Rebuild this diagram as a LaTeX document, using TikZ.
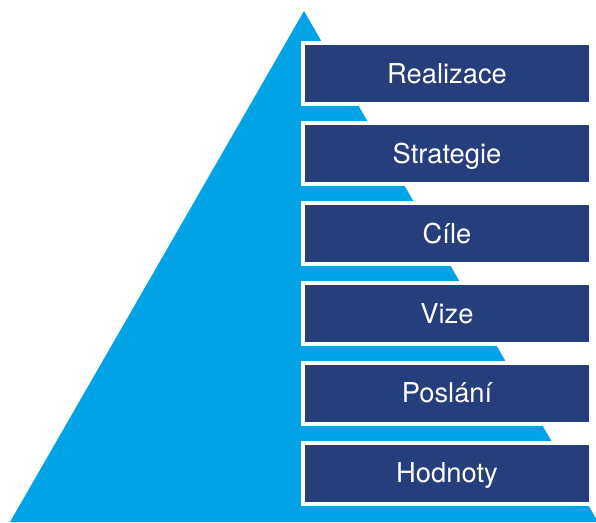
\documentclass[tikz,border=0pt]{standalone}
\usepackage{fontspec}
\setmainfont{TeX Gyre Heros}
\usetikzlibrary{positioning}
\definecolor{pyramid}{RGB}{0,164,230}
\definecolor{stagefill}{RGB}{36,63,124}
\tikzset{
	x=0.75pt, y=-0.75pt,
	node distance=11.2pt,
	stage/.style={rectangle, fill=stagefill, draw=white, line width=3pt,
		outer sep=1.5pt, text=white, minimum width=216pt, minimum height=45.75pt,
		text height=14.6pt, text depth=0pt, font=\fontsize{20.5}{24}\selectfont}}

\begin{document}
\begin{tikzpicture}
		\useasboundingbox (0,0) rectangle (596,522);

		\coordinate (apex) at (304,11);
		\coordinate (baseL) at (10,522);
		\coordinate (baseR) at (598,522);
		\fill[pyramid] (apex) -- (baseR) -- (baseL) -- cycle;

		\node[stage] (real) at (447,73.5) {Realizace};
		\node[stage, below=of real] (strat) {Strategie};
		\node[stage, below=of strat] (cile) {Cíle};
		\node[stage, below=of cile] (vize) {Vize};
		\node[stage, below=of vize] (posl) {Poslání};
		\node[stage, below=of posl] (hodn) {Hodnoty};
	\end{tikzpicture}
\end{document}
